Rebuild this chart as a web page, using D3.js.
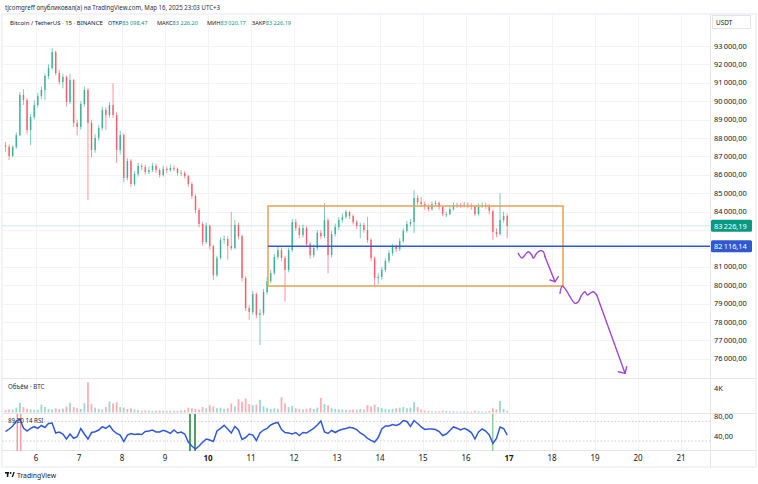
<!DOCTYPE html>
<html><head><meta charset="utf-8">
<script src="https://cdn.jsdelivr.net/npm/d3@7"></script>
<style>
html,body{margin:0;padding:0;background:#fff;}
svg{display:block;font-family:"Noto Sans","DejaVu Sans",sans-serif;}
</style></head><body>
<svg id="c" width="758" height="484"></svg>
<script>
// ---- data (BTC/USDT, aggregated 2h candles) ----
const startDay = 5.25;      // Mar 5, 06:00
const stepHours = 2;
const firstOpen = 87600;
const closes = [87530,87020,87510,88160,90340,90070,88430,89140,89790,90280,
 90610,91370,91800,92670,91530,91040,91320,89960,91150,88820,
 88600,89850,90610,88820,87350,88000,88540,89520,89250,89790,
 89250,87350,88160,85830,86750,85500,86040,86480,86420,86150,
 86260,86480,86260,85990,86320,86260,86370,86320,86100,86100,
 85930,85500,84850,84090,83330,82350,83220,82130,80550,81480,
 82460,82510,82130,82020,83270,82670,80390,78760,78540,79520,
 78380,78470,79630,80230,80660,81530,81910,81480,80830,81910,
 83430,83110,82730,83110,82240,81640,82020,82840,82670,83540,
 81640,82780,83160,83540,83710,83980,83760,83430,83220,83270,
 83000,82460,81480,80390,80450,80830,81320,81750,82080,81970,
 82400,82950,83330,83430,84740,84520,84410,84250,84140,84410,
 84470,84250,83870,83870,84140,84360,84360,84330,84380,84350,
 84250,83870,84300,84360,84300,84030,82890,82780,83540,83760,
 83226.19];
const highs = [87800,87650,87600,88300,90500,90650,90150,89300,90050,90450,
 90800,91500,92000,92880,92750,91700,91500,91400,91500,91200,
 89000,90000,90800,90700,89000,88200,88700,89700,89650,89950,
 90970,89400,88400,88250,86900,86850,86200,86650,86600,86550,
 86450,86650,86600,86350,86500,86450,86550,86500,86400,86250,
 86200,86000,85600,84950,84200,83450,83400,83300,82200,81600,
 82600,82700,82650,83990,83540,83400,82750,80500,78900,79700,
 79600,78700,79800,80450,80850,81700,82100,82050,81600,82050,
 83600,83600,83250,83300,83200,82350,82200,83000,83000,84450,
 83650,82950,83350,83700,83900,84090,84050,83850,83550,83400,
 83400,83720,82550,81550,80650,81000,81450,81900,82250,82200,
 82550,83100,83500,83600,85170,84900,84800,84550,84400,84550,
 84600,84550,84350,84000,84300,84500,84500,84480,84520,84500,
 84450,84350,84450,84500,84480,84400,84100,83100,85000,84000,
 83900];
const lows = [87250,86800,86950,87400,88100,89800,88200,87620,89000,89650,
 90100,90050,91200,91700,91400,90900,90700,89700,89850,88600,
 88150,88450,89700,84630,86950,87200,87850,88400,88450,89100,
 89100,86640,87100,85600,85700,85350,85400,85900,86250,86000,
 86050,86150,86100,85850,85900,86100,86150,86200,85950,85950,
 85800,85350,84700,83900,83150,82150,82250,81950,80280,80450,
 81400,82250,81400,81900,81950,82500,80200,78600,78110,78400,
 78200,76750,78350,79500,80100,80550,81400,81300,79100,80700,
 81800,82950,82550,82600,82100,81450,81500,81900,82500,82550,
 80650,81500,82650,83000,83400,83600,83600,83300,83050,82550,
 82850,82300,81300,79990,80050,80300,80700,81200,81600,81800,
 81850,82300,82850,83200,82840,84350,84250,84100,84000,84050,
 84300,84100,83750,83700,83800,84050,84200,84200,84220,84200,
 84100,83750,83800,84200,84150,83850,82460,82600,82700,83400,
 82560];
const volumes = [400,500,450,800,1600,900,600,500,450,400,
 1300,900,600,500,700,550,650,1000,1600,900,
 700,600,1500,5000,1400,800,600,500,900,1800,
 1500,1700,900,800,600,700,500,400,300,350,
 300,250,300,350,300,250,300,250,300,350,
 400,800,700,600,500,900,700,1200,1000,700,
 800,600,700,1500,1000,2200,1800,2300,1400,1200,
 1300,2100,1000,800,600,700,600,2500,1500,900,
 1100,700,600,500,600,700,600,800,2400,1400,
 1200,700,600,500,500,450,400,500,450,600,
 500,1200,1000,1300,900,700,600,500,600,700,
 800,900,700,800,1700,900,500,300,250,200,
 200,200,300,250,200,200,150,150,200,150,
 150,300,200,150,200,250,700,500,1900,600,
 300];
const rsi = [49,54.5,60.6,70.8,74.9,56.5,50.4,55.9,59.2,55.9,
 61.6,57.6,65.7,66.7,46.3,48.4,44.3,34.1,44.3,35.5,
 38.8,55.5,44.3,34.1,47.3,49,52.4,59.2,55.9,61.6,
 51.4,45.7,42.2,29,42.2,45.3,43.3,44.3,43.3,49.4,
 50.4,52.4,48.4,48.4,51.8,49.4,45.7,52.4,46.3,48.4,
 44.3,28,19.8,13.7,19.8,27.3,34.1,32,29,50.4,
 55.9,62,54.5,46.3,59.6,52.4,33.1,37.1,44.3,42.2,
 31,46.3,52.4,55.9,62.7,66.1,67.8,53.5,47.3,46.3,
 44.3,47.3,41.2,47.3,46.3,51.4,55.9,62.7,70.8,48.4,
 45.3,51.4,47.3,51.4,53.9,55.5,58,56.5,53.1,46.3,
 42.2,35.5,31.4,28,37.1,54.5,60.6,60.6,63.7,61.6,
 64.7,71.8,69.8,59.6,71.8,65.7,58.6,53.5,54.5,54.5,
 53.5,49.4,41.2,44.3,51.4,58.6,55.9,52.4,55.9,52.4,
 47.3,34.1,48.4,54.5,50.4,42.2,24.9,35.1,58.6,55.5,
 42.2];
const dayTicks = [6,7,8,9,10,11,12,13,14,15,16,17,18,19,20,21];
const boldDays = [10,17];
const priceGrid = [76000,77000,78000,79000,80000,81000,82000,83000,84000,85000,86000,87000,88000,89000,90000,91000,92000,93000];
const priceLabels = [76000,77000,78000,79000,80000,81000,84000,85000,86000,87000,88000,89000,90000,91000,92000,93000];
const lastPrice = 83226.19;
const levelPrice = 82116.14;
const rangeBox = {d0: 11.395, d1: 18.256, top: 84304, bottom: 79956};
const rsiLabels = [80, 40];
const rsiBands = [70, 30];
const volLabel = 4000;
const markers = [
  {d: 5.565, color: "#f29aa3"}, {d: 5.644, color: "#f29aa3"},
  {d: 9.581, color: "#1e7d32"}, {d: 9.698, color: "#1e7d32"},
  {d: 16.621, color: "#8fcf9a"}
];
const arrow1 = [[17.216,81733],[17.302,81478],[17.372,81641],[17.449,81820],[17.528,81641],[17.565,81462],[17.644,81733],[17.721,81875],[17.798,81820],[17.837,81549]];
const arrow1Tip = [18.070,80190], arrow1Head = [[17.953,80283],[18.147,80461]];
const arrow2 = [[18.186,79560],[18.240,79956],[18.326,79739],[18.419,79375],[18.535,79016],[18.612,79103],[18.691,79467],[18.767,79647],[18.821,79467],[18.884,79560],[18.960,79647],[19.040,79467]];
const arrow2Tip = [19.698,75211], arrow2Head = [[19.542,75298],[19.737,75570]];
const header1 = "tjcomgreff опубликовал(а) на TradingView.com, Мар 16, 2025 23:03 UTC+3";
const symbolText = "Bitcoin / TetherUS · 15 · BINANCE";
const ohlc = [["ОТКР","83 098,47"],["МАКС","83 226,20"],["МИН","83 020,17"],["ЗАКР","83 226,19"]];

// ---- layout ----
const svg = d3.select("#c");
const L = 2, R = 710, mainTop = 14, mainBot = 378, volBot = 413, rsiBot = 450, axisBot = 467;
const x = d3.scaleLinear().domain([6, 21]).range([36, 681]);
const y = d3.scaleLinear().domain([76000, 93000]).range([358.8, 46]);
const yv = d3.scaleLinear().domain([0, 4000]).range([412.5, 388.3]);
const yr = d3.scaleLinear().domain([0, 100]).range([455.7, 406.7]);
const loc = d3.formatLocale({decimal: ",", thousands: "\u2009", grouping: [3], currency: ["", ""]});
const fmt = loc.format(",.2f");
const fmtK = v => (v/1000) + "K";
const t = i => startDay + (i + 0.5) * stepHours / 24;
const opens = closes.map((c, i) => i === 0 ? firstOpen : closes[i - 1]);
const UP = "#089981", DN = "#f23645";

// frame
svg.append("rect").attr("x", L).attr("y", mainTop).attr("width", 754).attr("height", axisBot - mainTop)
  .attr("fill", "none").attr("stroke", "#e6e8ee");

// grid
const grid = svg.append("g").attr("stroke", "#f1f3f8").attr("stroke-width", 1);
grid.selectAll("line.h").data(priceGrid).join("line")
  .attr("x1", L).attr("x2", R).attr("y1", d => Math.round(y(d)) + 0.5).attr("y2", d => Math.round(y(d)) + 0.5);
grid.selectAll("line.v").data(dayTicks).join("line")
  .attr("y1", mainTop).attr("y2", rsiBot).attr("x1", d => Math.round(x(d)) + 0.5).attr("x2", d => Math.round(x(d)) + 0.5);

// separators
const sep = svg.append("g").attr("stroke", "#e3e5ea");
[mainBot, volBot, rsiBot].forEach(v => sep.append("line").attr("x1", L).attr("x2", 756).attr("y1", v + 0.5).attr("y2", v + 0.5));
sep.append("line").attr("x1", R + 0.5).attr("x2", R + 0.5).attr("y1", mainTop).attr("y2", axisBot);

// header
svg.append("text").attr("x", 5).attr("y", 9.5).attr("font-size", 6.4).attr("fill", "#2a2e39")
  .attr("textLength", 215).attr("lengthAdjust", "spacingAndGlyphs").text(header1);
svg.append("text").attr("x", 10).attr("y", 24.5).attr("font-size", 6).attr("fill", "#131722").text(symbolText);
const ohlcX = [108, 157, 207, 252];
ohlc.forEach((p, k) => {
  const tx = svg.append("text").attr("x", ohlcX[k]).attr("y", 24.5).attr("font-size", 5.6);
  tx.append("tspan").attr("fill", "#131722").text(p[0]);
  tx.append("tspan").attr("fill", UP).text(p[1]);
});

// USDT box
svg.append("rect").attr("x", 712.5).attr("y", 15.5).attr("width", 38).attr("height", 13).attr("fill", "#fff").attr("stroke", "#e3e5ea");
svg.append("text").attr("x", 716).attr("y", 24.5).attr("font-size", 6.4).attr("fill", "#131722").text("USDT");

// current price line
svg.append("line").attr("x1", L).attr("x2", R).attr("y1", y(lastPrice)).attr("y2", y(lastPrice))
  .attr("stroke", "#cfeae2").attr("stroke-width", 1);

// candles
const cg = svg.append("g");
closes.forEach((c, i) => {
  const o = opens[i], col = c >= o ? UP : DN, cx = x(t(i));
  cg.append("line").attr("x1", cx).attr("x2", cx).attr("y1", y(highs[i])).attr("y2", y(lows[i]))
    .attr("stroke", col).attr("stroke-width", 0.8).attr("opacity", 0.65);
  const y0 = y(Math.max(o, c)), y1 = y(Math.min(o, c));
  cg.append("rect").attr("x", cx - 0.8).attr("width", 1.6)
    .attr("y", y0).attr("height", Math.max(0.8, y1 - y0)).attr("fill", col).attr("opacity", 0.6);
});

// range box
svg.append("rect").attr("x", x(rangeBox.d0)).attr("y", y(rangeBox.top))
  .attr("width", x(rangeBox.d1) - x(rangeBox.d0)).attr("height", y(rangeBox.bottom) - y(rangeBox.top))
  .attr("fill", "none").attr("stroke", "#eaa55e").attr("stroke-width", 1.6);

// level line
svg.append("line").attr("x1", x(rangeBox.d0)).attr("x2", R).attr("y1", y(levelPrice)).attr("y2", y(levelPrice))
  .attr("stroke", "#2f59cf").attr("stroke-width", 1.4);

// purple arrows
const P = "#a247cf";
const lineGen = d3.line().x(d => x(d[0])).y(d => y(d[1])).curve(d3.curveCatmullRom);
[[arrow1, arrow1Tip, arrow1Head], [arrow2, arrow2Tip, arrow2Head]].forEach(([pts, tip, head]) => {
  svg.append("path").attr("d", lineGen(pts)).attr("fill", "none").attr("stroke", P).attr("stroke-width", 1.4).attr("stroke-linecap", "round");
  const last = pts[pts.length - 1];
  svg.append("line").attr("x1", x(last[0])).attr("y1", y(last[1])).attr("x2", x(tip[0])).attr("y2", y(tip[1]))
    .attr("stroke", P).attr("stroke-width", 1.4).attr("stroke-linecap", "round");
  head.forEach(h => svg.append("line").attr("x1", x(tip[0])).attr("y1", y(tip[1])).attr("x2", x(h[0])).attr("y2", y(h[1]))
    .attr("stroke", P).attr("stroke-width", 1.4).attr("stroke-linecap", "round"));
});

// right axis price labels
svg.append("g").selectAll("text").data(priceLabels).join("text")
  .attr("x", 714).attr("y", d => y(d) + 2.6).attr("font-size", 7.4).attr("fill", "#131722").text(d => fmt(d));

// price tags
function tag(v, bg) {
  svg.append("rect").attr("x", 711).attr("y", y(v) - 6).attr("width", 41).attr("height", 12).attr("rx", 1.5).attr("fill", bg);
  svg.append("text").attr("x", 714).attr("y", y(v) + 2.7).attr("font-size", 7.4).attr("fill", "#fff").text(fmt(v));
}
tag(lastPrice, UP);
tag(levelPrice, "#2f59cf");

// volume pane
svg.append("text").attr("x", 8).attr("y", 388.5).attr("font-size", 6.2).attr("fill", "#2a2e39").text("Объём · BTC");
svg.append("text").attr("x", 714).attr("y", yv(volLabel) + 2.6).attr("font-size", 7.4).attr("fill", "#131722").text(fmtK(volLabel));
const vg = svg.append("g");
volumes.forEach((v, i) => {
  const col = closes[i] >= opens[i] ? UP : DN;
  vg.append("rect").attr("x", x(t(i)) - 0.9).attr("width", 1.8)
    .attr("y", yv(v)).attr("height", yv(0) - yv(v)).attr("fill", col).attr("opacity", 0.4);
});

// RSI pane
const bands = svg.append("g").attr("stroke", "#c9ccd3").attr("stroke-dasharray", "1.5,2");
rsiBands.forEach(b => bands.append("line").attr("x1", L).attr("x2", R).attr("y1", yr(b)).attr("y2", yr(b)));
svg.append("g").selectAll("line").data(markers).join("line")
  .attr("x1", d => x(d.d)).attr("x2", d => x(d.d)).attr("y1", volBot + 1).attr("y2", rsiBot + 1)
  .attr("stroke", d => d.color).attr("stroke-width", 1.5);
svg.append("path").datum(rsi).attr("fill", "none").attr("stroke", "#3159d6").attr("stroke-width", 1.5)
  .attr("d", d3.line().x((d, i) => x(t(i))).y(d => yr(d)));
svg.append("text").attr("x", 8).attr("y", 423).attr("font-size", 6.2).attr("fill", "#2a2e39").text("89,20 14 RSI");
svg.append("g").selectAll("text").data(rsiLabels).join("text")
  .attr("x", 714).attr("y", d => yr(d) + 2.6).attr("font-size", 7.4).attr("fill", "#131722").text(d => fmt(d));

// x axis
svg.append("g").selectAll("text").data(dayTicks).join("text")
  .attr("x", d => x(d)).attr("y", 461).attr("text-anchor", "middle").attr("font-size", 8)
  .attr("font-weight", d => boldDays.includes(d) ? "bold" : "normal").attr("fill", "#131722").text(d => d);

// TradingView logo
const lg = svg.append("g").attr("fill", "#131722");
lg.append("rect").attr("x", 5).attr("y", 472).attr("width", 4).attr("height", 1.6);
lg.append("rect").attr("x", 6.8).attr("y", 472).attr("width", 1.6).attr("height", 5);
lg.append("circle").attr("cx", 10.6).attr("cy", 473).attr("r", 0.9);
lg.append("path").attr("d", "M11.6 477 L13.4 472 L14.8 472 L13 477 Z");
svg.append("text").attr("x", 17).attr("y", 477.5).attr("font-size", 6.8).attr("fill", "#131722").text("TradingView");
</script>
</body></html>
